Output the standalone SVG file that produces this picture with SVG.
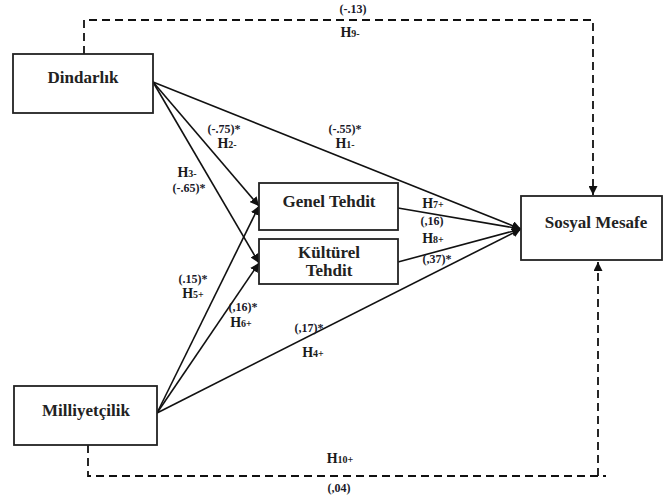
<svg xmlns="http://www.w3.org/2000/svg" width="664" height="499" viewBox="0 0 664 499">
<style>
.box{fill:#fff;stroke:#222;stroke-width:1.8}
.node{font-family:"Liberation Serif","Times New Roman",serif;font-weight:bold;font-size:17px;fill:#222;text-anchor:middle}
.lbl{font-family:"Liberation Serif","Times New Roman",serif;font-weight:bold;font-size:12px;fill:#1a1a2a;text-anchor:middle}
.h{font-family:"Liberation Serif","Times New Roman",serif;font-weight:bold;font-size:14px;fill:#1a1a1a;text-anchor:middle}
.sub{font-size:10px}
.ln{fill:none;stroke:#111;stroke-width:1.6}
.dash{fill:none;stroke:#111;stroke-width:1.8;stroke-dasharray:8,5}
</style>
<defs>
<marker id="arr" viewBox="0 0 10 10" refX="10" refY="5" markerWidth="9" markerHeight="9" markerUnits="userSpaceOnUse" orient="auto">
<path d="M0,0 L10,5 L0,10 Z" fill="#111"/>
</marker>
</defs>
<g id="connectors">
<path class="dash" d="M84,54 V20 H593 V195" marker-end="url(#arr)"/>
<path class="dash" d="M88,445 V476 H606 M598,476 V262" marker-end="url(#arr)"/>
<path class="ln" d="M153,82 L521,229" marker-end="url(#arr)"/>
<path class="ln" d="M153,82 L259,206" marker-end="url(#arr)"/>
<path class="ln" d="M153,82 L259,263" marker-end="url(#arr)"/>
<path class="ln" d="M157,413 L259,206" marker-end="url(#arr)"/>
<path class="ln" d="M157,413 L259,263" marker-end="url(#arr)"/>
<path class="ln" d="M157,413 L521,229" marker-end="url(#arr)"/>
<path class="ln" d="M398,208 L521,229" marker-end="url(#arr)"/>
<path class="ln" d="M398,262 L521,229" marker-end="url(#arr)"/>
</g>
<g id="labels">
<text class="lbl" x="353" y="13">(-.13)</text>
<text class="h" x="350" y="37">H<tspan class="sub">9-</tspan></text>
<text class="lbl" x="224" y="133">(-.75)*</text>
<text class="h" x="227" y="148">H<tspan class="sub">2-</tspan></text>
<text class="lbl" x="345" y="133">(-.55)*</text>
<text class="h" x="345" y="148">H<tspan class="sub">1-</tspan></text>
<text class="h" x="187" y="177">H<tspan class="sub">3-</tspan></text>
<text class="lbl" x="189" y="192">(-.65)*</text>
<text class="lbl" x="193" y="283">(.15)*</text>
<text class="h" x="193" y="298">H<tspan class="sub">5+</tspan></text>
<text class="lbl" x="243" y="311">(,16)*</text>
<text class="h" x="241" y="327">H<tspan class="sub">6+</tspan></text>
<text class="lbl" x="309" y="332">(,17)*</text>
<text class="h" x="313" y="357">H<tspan class="sub">4+</tspan></text>
<text class="h" x="433" y="208">H<tspan class="sub">7+</tspan></text>
<text class="lbl" x="432" y="225">(,16)</text>
<text class="h" x="433" y="243">H<tspan class="sub">8+</tspan></text>
<text class="lbl" x="437" y="263">(,37)*</text>
<text class="h" x="340" y="463">H<tspan class="sub">10+</tspan></text>
<text class="lbl" x="339" y="492">(,04)</text>
</g>
<g id="dindarlik">
<rect class="box" x="13" y="54" width="140" height="59"/>
<text class="node" x="83" y="83">Dindarlık</text>
</g>
<g id="milliyetcilik">
<rect class="box" x="14" y="386" width="143" height="59"/>
<text class="node" x="86" y="416">Milliyetçilik</text>
</g>
<g id="genel-tehdit">
<rect class="box" x="259" y="183" width="139" height="47"/>
<text class="node" x="329" y="207">Genel Tehdit</text>
</g>
<g id="kulturel-tehdit">
<rect class="box" x="259" y="239" width="139" height="45"/>
<text class="node" x="329" y="258">Kültürel</text>
<text class="node" x="329" y="276">Tehdit</text>
</g>
<g id="sosyal-mesafe">
<rect class="box" x="521" y="196" width="141" height="64"/>
<text class="node" x="596" y="228">Sosyal Mesafe</text>
</g>
</svg>
